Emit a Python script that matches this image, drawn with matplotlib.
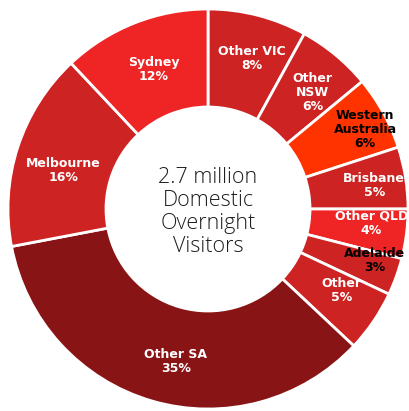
import numpy as np
import matplotlib
matplotlib.use("Agg")
import matplotlib.pyplot as plt

# Domestic overnight visitors by origin (share of total, %)
regions = ["Other VIC", "Other\nNSW", "Western\nAustralia", "Brisbane", "Other QLD",
           "Adelaide", "Other", "Other SA", "Melbourne", "Sydney"]
shares = [8, 6, 6, 5, 4, 3, 5, 35, 16, 12]
colors = ["#cd2323", "#cd2323", "#ff3300", "#cd2323", "#ee2425",
          "#cd2323", "#cd2323", "#881416", "#cd2323", "#ee2425"]
text_colors = ["white", "white", "black", "white", "white",
               "black", "white", "white", "white", "white"]
# label placement: radius (fraction of outer radius) and clockwise nudge in degrees
label_r = [0.785, 0.785, 0.88, 0.84, 0.82, 0.87, 0.78, 0.78, 0.75, 0.75]
label_dtheta = [1.8, 2.3, 2.1, 0.8, -2.3, -2.7, -2.9, -4.3, -3.0, 0.3]

center_text = "2.7 million\nDomestic\nOvernight\nVisitors"

fig = plt.figure(figsize=(4.10, 4.11), dpi=100)
ax = fig.add_axes([0, 0, 1, 1])

wedges, _ = ax.pie(shares, colors=colors, startangle=90, counterclock=False,
                   radius=1.0, wedgeprops=dict(width=0.49, edgecolor="white", linewidth=2.0))

# one unit = 200 px, pie centred at pixel (208, 209)
ax.set_aspect("auto")
ax.set_xlim(-208 / 200, (410 - 208) / 200)
ax.set_ylim(-(411 - 209) / 200, 209 / 200)
ax.axis("off")

for w, name, val, tc, r, dt in zip(wedges, regions, shares, text_colors, label_r, label_dtheta):
    mid = np.deg2rad((w.theta1 + w.theta2) / 2 - dt)
    ax.text(r * np.cos(mid), r * np.sin(mid), f"{name}\n{val}%", ha="center", va="center",
            color=tc, fontsize=9, fontweight="bold", linespacing=1.1)

ax.text(0, -0.015, center_text, ha="center", va="center", fontsize=15.5,
        family=["Open Sans", "DejaVu Sans"], fontweight="light", color="#1e1e1e",
        linespacing=1.12)

fig.savefig("out.png", dpi=100)
